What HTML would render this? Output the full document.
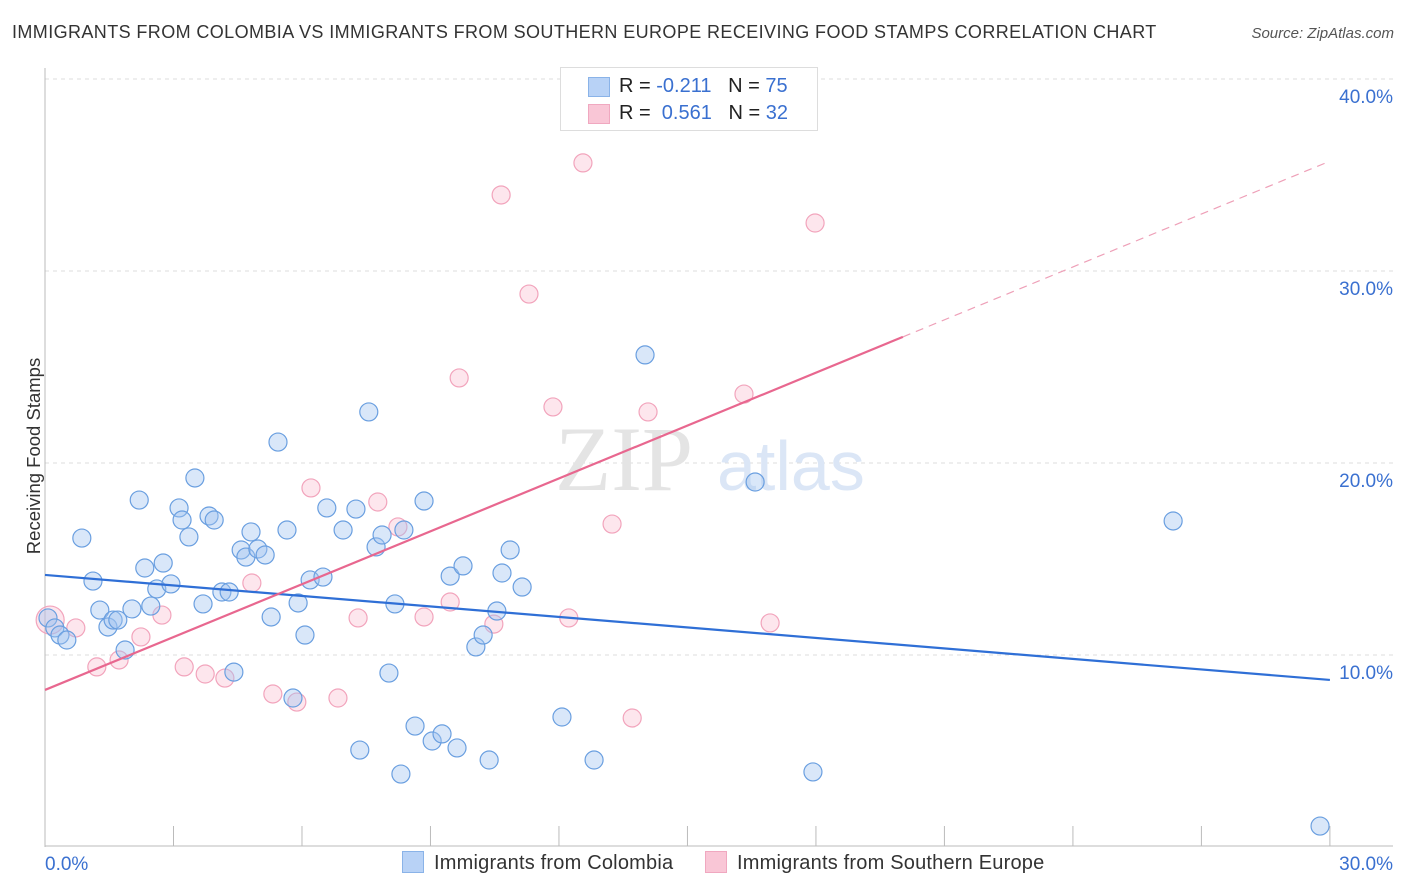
<!DOCTYPE html>
<html><head><meta charset="utf-8">
<style>
body{margin:0;background:#fff;font-family:"Liberation Sans",sans-serif;}
#wrap{position:relative;width:1406px;height:892px;overflow:hidden;}
.t{position:absolute;white-space:nowrap;}
</style></head>
<body>
<div id="wrap">
<div class="t" style="left:12px;top:22px;font-size:18px;letter-spacing:0.4px;color:#333;">IMMIGRANTS FROM COLOMBIA VS IMMIGRANTS FROM SOUTHERN EUROPE RECEIVING FOOD STAMPS CORRELATION CHART</div>
<div class="t" style="right:12px;top:25px;font-size:15px;color:#555;font-style:italic;">Source: ZipAtlas.com</div>
<div class="t" style="left:-64px;top:445px;font-size:18.5px;color:#333;transform:rotate(-90deg);">Receiving Food Stamps</div>
<svg id="chart" width="1406" height="892" style="position:absolute;left:0;top:0;"></svg>
<div class="t" style="left:560px;top:67px;width:256px;height:62px;border:1px solid #ddd;background:#fff;font-size:20px;">
  <div style="position:absolute;left:27px;top:9px;width:20px;height:18px;background:#b8d2f6;border:1px solid #8ab3e8;"></div>
  <div class="t" style="left:58px;top:7px;color:#222;">R = <span style="color:#3a70d0">-0.211</span>&nbsp;&nbsp;&nbsp;N = <span style="color:#3a70d0">75</span></div>
  <div style="position:absolute;left:27px;top:36px;width:20px;height:18px;background:#f9c6d6;border:1px solid #f0a8c0;"></div>
  <div class="t" style="left:58px;top:34px;color:#222;">R = &nbsp;<span style="color:#3a70d0">0.561</span>&nbsp;&nbsp;&nbsp;N = <span style="color:#3a70d0">32</span></div>
</div>
<div class="t" style="left:402px;top:851px;font-size:20px;letter-spacing:0.2px;color:#333;"><span style="display:inline-block;width:20px;height:20px;background:#b8d2f6;border:1px solid #8ab3e8;vertical-align:-4px;margin-right:10px;"></span>Immigrants from Colombia</div>
<div class="t" style="left:705px;top:851px;font-size:20px;letter-spacing:0.2px;color:#333;"><span style="display:inline-block;width:20px;height:20px;background:#f9c6d6;border:1px solid #f0a8c0;vertical-align:-4px;margin-right:10px;"></span>Immigrants from Southern Europe</div>
</div>
<script>
const xTickLabels=["0.0%","30.0%"];
const yTicks=[10,20,30,40];
const blueX=[0.07,0.23,0.35,0.51,0.86,1.12,1.28,1.47,1.59,1.70,1.87,2.03,2.20,2.33,2.47,2.61,2.76,2.94,3.13,3.20,3.36,3.50,3.69,3.83,3.95,4.13,4.30,4.41,4.58,4.69,4.81,4.97,5.14,5.28,5.44,5.65,5.79,5.91,6.07,6.19,6.49,6.58,6.96,7.26,7.35,7.56,7.73,7.87,8.03,8.17,8.31,8.38,8.64,8.85,9.04,9.27,9.46,9.62,9.76,10.06,10.23,10.37,10.55,10.67,10.86,11.14,12.07,12.82,14.01,16.58,17.93,26.34,29.77];
const blueY=[11.93,11.41,11.04,10.78,16.09,13.85,12.34,11.46,11.82,11.82,10.26,12.40,18.07,14.53,12.55,13.44,14.79,13.70,17.66,17.03,16.15,19.22,12.66,17.24,17.03,13.28,13.28,9.11,15.47,15.10,16.41,15.52,15.21,11.98,21.09,16.51,7.76,12.71,11.04,13.91,14.06,17.66,16.51,17.60,5.05,22.66,15.63,16.25,9.06,12.66,3.80,16.51,6.30,18.02,5.52,5.89,14.11,5.16,14.64,10.42,11.04,4.53,12.29,14.27,15.47,13.54,6.77,4.53,25.63,19.01,3.91,16.98,1.09];
const pinkX=[0.12,0.72,1.21,1.73,2.24,2.73,3.25,3.74,4.20,4.83,5.32,5.88,6.21,6.84,7.31,7.77,8.24,8.85,9.46,9.67,10.48,10.65,11.30,11.86,12.23,12.56,13.24,13.71,14.08,16.32,16.93,17.98];
const pinkY=[11.82,11.41,9.38,9.74,10.94,12.08,9.38,9.01,8.80,13.75,7.97,7.55,18.70,7.76,11.93,17.97,16.67,11.98,12.76,24.43,11.61,33.96,28.80,22.92,11.93,35.63,16.82,6.72,22.66,23.59,11.67,32.50];
const blueTrend=[14.17,-0.1823];
const pinkTrend=[8.18,0.918];
const pinkSolidEnd=20.03;

const svg=document.getElementById('chart');
const NS='http://www.w3.org/2000/svg';
const X=v=>45+v*42.83;
const Y=v=>847-v*19.2;
function mk(tag,at){const e=document.createElementNS(NS,tag);for(const k in at)e.setAttribute(k,at[k]);svg.appendChild(e);return e;}
yTicks.forEach(t=>{
  const g=mk('line',{x1:45,x2:1393,y1:Y(t),y2:Y(t),stroke:'#ddd','stroke-dasharray':'4,4'});
  
  
  const tx=mk('text',{x:1393,y:Y(t)+24,'text-anchor':'end','font-size':19,fill:'#3a70d0','font-family':'Liberation Sans, sans-serif'});
  tx.textContent=t.toFixed(1)+'%';
  
  
});
let a=mk('line',{x1:45,x2:45,y1:68,y2:847,stroke:'#bbb'});


a=mk('line',{x1:45,x2:1393,y1:846,y2:846,stroke:'#bbb'});


for(let i=1;i<=10;i++){
  const tk=mk('line',{x1:X(i*3),x2:X(i*3),y1:826,y2:846,stroke:'#bbb'});
  
  
}
[[0,'start',45],[30,'end',1393]].forEach((d,i)=>{
  const tx=mk('text',{x:d[2],y:870,'text-anchor':d[1],'font-size':19,fill:'#3a70d0','font-family':'Liberation Sans, sans-serif'});
  tx.textContent=xTickLabels[i];
  
  
});
const wm=mk('text',{x:555,y:490,'font-size':92,fill:'#e4e4e4','font-family':'Liberation Serif, serif'});
wm.textContent='ZIP';


const wm2=mk('text',{x:717,y:490,'font-size':70,fill:'#dbe6f6','font-family':'Liberation Sans, sans-serif'});
wm2.textContent='atlas';


pinkX.forEach((x,i)=>{
  const c=mk('circle',{cx:X(x),cy:Y(pinkY[i]),r:i===0?14:9,fill:'rgba(248,182,204,0.35)',stroke:'#f2a4bc','stroke-width':1.2});
  
  
});
blueX.forEach((x,i)=>{
  const c=mk('circle',{cx:X(x),cy:Y(blueY[i]),r:9,fill:'rgba(160,196,240,0.4)',stroke:'#6a9fe0','stroke-width':1.2});
  
  
});
let l=mk('line',{x1:X(0),y1:Y(blueTrend[0]),x2:X(30),y2:Y(blueTrend[0]+blueTrend[1]*30),stroke:'#2f6fd6','stroke-width':2.2});


l=mk('line',{x1:X(0),y1:Y(pinkTrend[0]),x2:X(pinkSolidEnd),y2:Y(pinkTrend[0]+pinkTrend[1]*pinkSolidEnd),stroke:'#e8678f','stroke-width':2.2});


l=mk('line',{x1:X(pinkSolidEnd),y1:Y(pinkTrend[0]+pinkTrend[1]*pinkSolidEnd),x2:X(30),y2:Y(pinkTrend[0]+pinkTrend[1]*30),stroke:'#eea0b8','stroke-width':1.2,'stroke-dasharray':'8,6'});


</script>
</body></html>
